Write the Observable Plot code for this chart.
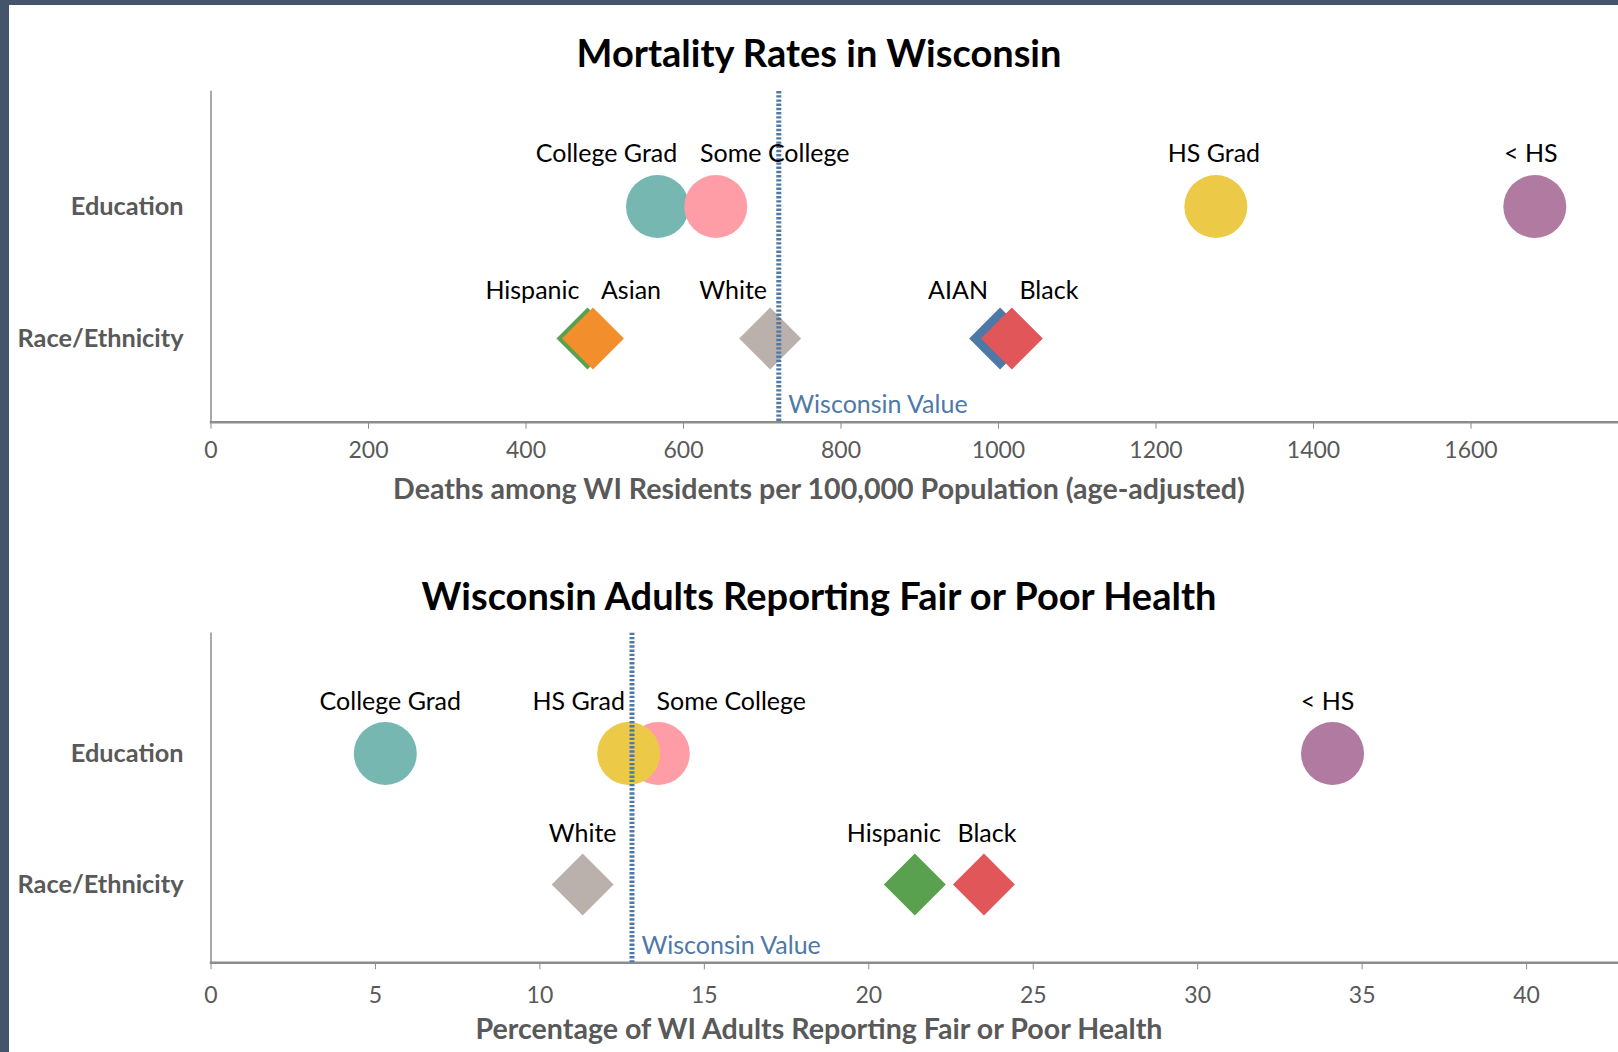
<!DOCTYPE html>
<html>
<head>
<meta charset="utf-8">
<script src="https://cdn.jsdelivr.net/npm/d3@7"></script>
<script src="https://cdn.jsdelivr.net/npm/@observablehq/plot@0.6"></script>
<style>
  html, body { margin: 0; padding: 0; background: #fff; width: 1618px; height: 1052px; overflow: hidden; font-family: Lato, sans-serif; }
  #leftbar { position: absolute; left: 0; top: 0; width: 9px; height: 1052px; background: #44546a; z-index: 5; }
  #topbar { position: absolute; left: 0; top: 0; width: 1618px; height: 5px; background: #44546a; z-index: 5; }
  .title { position: absolute; left: 219px; width: 1200px; text-align: center; font-weight: 700; color: #000; white-space: nowrap; line-height: 1.2; }
  .axtitle { position: absolute; left: 219px; width: 1200px; text-align: center; font-weight: 700; color: #595959; white-space: nowrap; line-height: 1.2; }
  .chart { position: absolute; left: 0; }
</style>
</head>
<body>
<div id="leftbar"></div>
<div id="topbar"></div>
<div class="title" id="t1" style="top:30px;font-size:38px;">Mortality Rates in Wisconsin</div>
<div class="chart" id="c1" style="top:80px;"></div>
<div class="axtitle" id="a1" style="top:471px;font-size:28.6px;">Deaths among WI Residents per 100,000 Population (age-adjusted)</div>
<div class="title" id="t2" style="top:573px;font-size:38px;">Wisconsin Adults Reporting Fair or Poor Health</div>
<div class="chart" id="c2" style="top:620px;"></div>
<div class="axtitle" id="a2" style="top:1011px;font-size:28.6px;">Percentage of WI Adults Reporting Fair or Poor Health</div>
<script>
// ---------- data ----------
const rowCategories = ["Education", "Race/Ethnicity"];

const mortEduLabels = ["College Grad", "Some College", "HS Grad", "< HS"];
const mortEduValues = [567, 641, 1276, 1681];
const mortRaceLabels = ["Hispanic", "Asian", "White", "AIAN", "Black"];
const mortRaceValues = [478, 485, 710, 1002, 1017];
const mortWisconsin = 721;
const mortTicks = [0, 200, 400, 600, 800, 1000, 1200, 1400, 1600];

const healthEduLabels = ["College Grad", "Some College", "HS Grad", "< HS"];
const healthEduValues = [5.3, 13.6, 12.7, 34.1];
const healthRaceLabels = ["White", "Hispanic", "Black"];
const healthRaceValues = [11.3, 21.4, 23.5];
const healthWisconsin = 12.8;
const healthTicks = [0, 5, 10, 15, 20, 25, 30, 35, 40];

// ---------- styling ----------
const groupLabels = ["College Grad", "Some College", "HS Grad", "< HS", "Hispanic", "Asian", "White", "AIAN", "Black"];
const groupColors = ["#76b7b2", "#ff9da7", "#edc948", "#b07aa1", "#59a14f", "#f28e2b", "#bab0ac", "#4e79a7", "#e15759"];
const wiColor = "#4e79a7";
const axisColor = "#8c8c8c";
const textGray = "#595959";

// label offsets (pixels) to mimic the original label placement
const mortLabelDx = {"College Grad": -51, "Some College": 59, "HS Grad": -2, "< HS": -4,
  "Hispanic": -55, "Asian": 38, "White": -37, "AIAN": -42, "Black": 37};
const healthLabelDx = {"College Grad": 5, "Some College": 73, "HS Grad": -50, "< HS": -5,
  "White": 0, "Hispanic": -21, "Black": 3};

function rows(labels, values, group) {
  return labels.map((label, i) => ({label, value: values[i], group}));
}

function makeChart(cfg) {
  const edu = rows(cfg.eduLabels, cfg.eduValues, rowCategories[0]);
  const race = rows(cfg.raceLabels, cfg.raceValues, rowCategories[1]);
  const labelMarks = (data, dy) => data.map(d => Plot.text([d], {
    x: "value", y: "group", text: "label", dx: cfg.dx[d.label], dy,
    fill: "#000", fontSize: 25, fontFamily: "Lato"
  }));
  return Plot.plot({
    width: 1618,
    height: cfg.height,
    marginTop: cfg.marginTop,
    marginBottom: cfg.marginBottom,
    marginLeft: 210.5,
    marginRight: 0,
    style: {fontFamily: "Lato", fontSize: "24px", color: textGray, background: "transparent", overflow: "visible"},
    x: {domain: cfg.xDomain, range: cfg.xRange},
    y: {type: "point", domain: rowCategories, range: cfg.yRange, padding: 0},
    color: {domain: groupLabels, range: groupColors},
    marks: [
      Plot.frame({anchor: "left", stroke: axisColor, strokeWidth: 1.5}),
      Plot.frame({anchor: "bottom", stroke: axisColor, strokeWidth: 2.5}),
      Plot.axisX(cfg.ticks, {tickSize: 7, tickPadding: cfg.tickPadding, fontSize: 23, label: null,
        tickFormat: d => String(d), stroke: axisColor}),
      Plot.axisY({tickSize: 0, tickPadding: 27.5, fontSize: 25.3, fontWeight: "bold", label: null}),
      Plot.dot(edu, {x: "value", y: "group", fill: "label", r: 31.5}),
      Plot.dot(race, {x: "value", y: "group", fill: "label", symbol: "diamond2", r: 27.9}),
      Plot.ruleX([cfg.wi], {stroke: wiColor, strokeWidth: 5, strokeDasharray: "2.4,1.8"}),
      Plot.text([cfg.wi], {x: d => d, frameAnchor: "bottom", lineAnchor: "middle", text: () => "Wisconsin Value",
        textAnchor: "start", dx: 9.5, dy: -17, fill: wiColor, fontSize: 25}),
      ...labelMarks(edu, cfg.eduDy),
      ...labelMarks(race, cfg.raceDy)
    ]
  });
}

document.getElementById("c1").append(makeChart({
  eduLabels: mortEduLabels, eduValues: mortEduValues,
  raceLabels: mortRaceLabels, raceValues: mortRaceValues,
  wi: mortWisconsin, ticks: mortTicks,
  xDomain: [0, 1800], xRange: [210.5, 1628],
  yRange: [126, 258.3], height: 400, marginTop: 11, marginBottom: 58.3,
  tickPadding: 12, dx: mortLabelDx, eduDy: -53, raceDy: -48
}));

document.getElementById("c2").append(makeChart({
  eduLabels: healthEduLabels, eduValues: healthEduValues,
  raceLabels: healthRaceLabels, raceValues: healthRaceValues,
  wi: healthWisconsin, ticks: healthTicks,
  xDomain: [0, 43], xRange: [210.5, 210.5 + 43 * 32.89],
  yRange: [132.3, 264], height: 390, marginTop: 12.7, marginBottom: 47.7,
  tickPadding: 17, dx: healthLabelDx, eduDy: -52, raceDy: -50.5
}));
</script>
</body>
</html>
